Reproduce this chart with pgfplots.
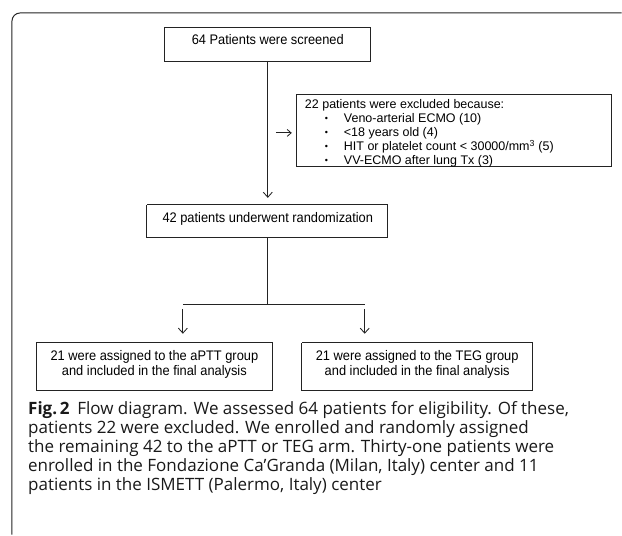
\documentclass[border=0pt]{standalone}
\usepackage{pgfplots}
\pgfplotsset{compat=1.18}
\usepackage{fontspec}
\usepackage{graphicx}
\setmainfont{Liberation Sans}
\newfontfamily\capfont{Open Sans}
\usetikzlibrary{arrows.meta}
\definecolor{ln}{RGB}{35,35,35}
\newcommand{\vs}[1]{\scalebox{1}[1.08]{#1}}
\begin{document}
\begin{tikzpicture}
\begin{axis}[
  width=622pt, height=535pt, scale only axis,
  xmin=0, xmax=622, ymin=0, ymax=535, y dir=reverse,
  hide axis, clip=false,
]
% bounding frame of the picture
\addplot[draw=none] coordinates {(0,0) (622,535)};
% outer panel frame (rounded top-left)
\addplot[ln, line width=1pt, rounded corners=8pt] coordinates {(622,13) (12,13) (12,535)};
% boxes
\addplot[ln, line width=0.85pt] coordinates {(165,27) (371,27) (371,61) (165,61) (165,27)};
\addplot[ln, line width=0.85pt] coordinates {(297,94) (612,94) (612,167) (297,167) (297,94)};
\addplot[ln, line width=0.85pt] coordinates {(147,205) (388,205) (388,238) (147,238) (147,205)};
\addplot[ln, line width=0.85pt] coordinates {(36,343) (273,343) (273,391) (36,391) (36,343)};
\addplot[ln, line width=0.85pt] coordinates {(302,343) (533,343) (533,391) (302,391) (302,343)};
% connectors
\addplot[ln, line width=0.85pt, -{Straight Barb[length=5pt,width=9pt]}] coordinates {(268,61) (268,198)};
\addplot[ln, line width=0.85pt, -{Straight Barb[length=4pt,width=7pt]}] coordinates {(276,133) (292,133)};
\addplot[ln, line width=0.85pt] coordinates {(268,238) (268,305)};
\addplot[ln, line width=0.85pt] coordinates {(183,305) (365,305)};
\addplot[ln, line width=0.85pt, -{Straight Barb[length=5pt,width=9pt]}] coordinates {(183,309) (183,334)};
\addplot[ln, line width=0.85pt, -{Straight Barb[length=5pt,width=9pt]}] coordinates {(365,309) (365,334)};
% texts
\tikzset{dt/.style={inner sep=0, anchor=base, font=\fontsize{12.85}{14}\selectfont},
  dl/.style={inner sep=0, anchor=base west, font=\fontsize{12.5}{14}\selectfont},
  bl/.style={inner sep=0, anchor=base west, font=\fontsize{9}{10}\selectfont}}
\node[dt] at (axis cs:268,45) {\vs{64 Patients were screened}};
\node[dl] at (axis cs:305,108.5) {22 patients were excluded because:};
\node[bl] at (axis cs:325,121.8) {\textbullet};
\node[bl] at (axis cs:325,135.8) {\textbullet};
\node[bl] at (axis cs:325,149.8) {\textbullet};
\node[bl] at (axis cs:325,163.8) {\textbullet};
\node[dl] at (axis cs:344,122.5) {Veno-arterial ECMO (10)};
\node[dl] at (axis cs:344,136.5) {<18 years old (4)};
\node[dl] at (axis cs:344,150.5) {HIT or platelet count < 30000/mm\textsuperscript{3} (5)};
\node[dl] at (axis cs:344,164.5) {VV-ECMO after lung Tx (3)};
\node[dt] at (axis cs:268,223) {\vs{42 patients underwent randomization}};
\node[dt] at (axis cs:154.5,361) {\vs{21 were assigned to the aPTT group}};
\node[dt] at (axis cs:154.5,376) {\vs{and included in the final analysis}};
\node[dt] at (axis cs:417.5,361) {\vs{21 were assigned to the TEG group}};
\node[dt] at (axis cs:417.5,376) {\vs{and included in the final analysis}};
% caption
\tikzset{cp/.style={inner sep=0, anchor=base west, text=black!90, font=\capfont\fontsize{17}{19}\selectfont}}
\node[cp] at (axis cs:28,415) {\textbf{Fig.\,2}\hspace{0.45em}Flow diagram. We assessed 64 patients for eligibility. Of these,};
\node[cp] at (axis cs:28,434) {patients 22 were excluded. We enrolled and randomly assigned};
\node[cp] at (axis cs:28,453) {the remaining 42 to the aPTT or TEG arm. Thirty-one patients were};
\node[cp] at (axis cs:28,472) {enrolled in the Fondazione Ca’Granda (Milan, Italy) center and 11};
\node[cp] at (axis cs:28,491) {patients in the ISMETT (Palermo, Italy) center};
\end{axis}
\end{tikzpicture}
\end{document}
